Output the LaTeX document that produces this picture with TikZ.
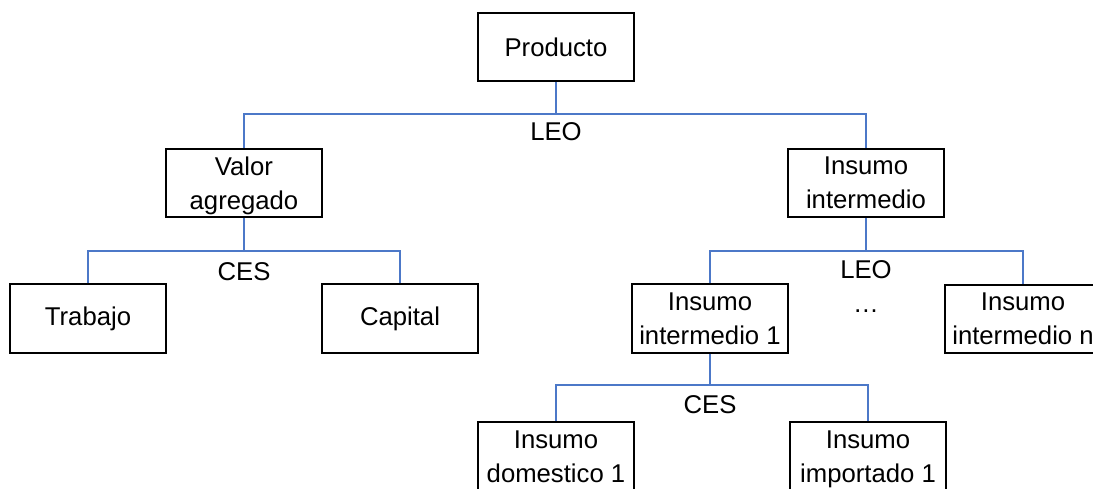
\documentclass[tikz,border=0pt]{standalone}
\usepackage{fontspec}
\setmainfont{Liberation Sans}
\definecolor{linkblue}{RGB}{76,120,200}
\newcommand\flatline[1]{\raisebox{0pt}[\height][0pt]{#1}}
\begin{document}
\begin{tikzpicture}[x=1pt,y=-1pt,
  box/.style={draw=black,line width=2pt,minimum width=156pt,minimum height=68pt,
    inner sep=0pt,align=center,fill=white,font=\fontsize{25.7}{34}\selectfont},
  tallbox/.style={box,minimum height=70pt},
  conn/.style={draw=linkblue,line width=1.2pt},
  lbl/.style={inner sep=0pt,font=\fontsize{25.7}{34}\selectfont}]
\useasboundingbox (0,0) rectangle (1093,489);
\clip (0,0) rectangle (1093,489);
\fill[white] (0,0) rectangle (1093,489);
% junctions
\coordinate (j1) at (556,114);
\coordinate (j2) at (244,251);
\coordinate (j3) at (866,251);
\coordinate (j4) at (710,385);
% boxes
\node[box] (prod) at (556,47) {Producto};
\node[box] (va) at (244,183) {Valor\\\flatline{agregado}};
\node[box] (ii) at (866,183) {Insumo\\\flatline{intermedio}};
\node[box] (trab) at (88,318.5) {Trabajo};
\node[box] (cap) at (400,318.5) {Capital};
\node[box] (ii1) at (710,318.5) {Insumo\\\flatline{intermedio 1}};
\node[box] (iin) at (1023,319) {Insumo\\\flatline{intermedio n}};
\node[tallbox] (dom) at (556,457) {Insumo\\\flatline{domestico 1}};
\node[tallbox] (imp) at (868,457) {Insumo\\\flatline{importado 1}};
% connectors
\draw[conn] (prod.south) -- (j1);
\draw[conn] (va.north) |- (j1) -| (ii.north);
\draw[conn] (va.south) -- (j2);
\draw[conn] (trab.north) |- (j2) -| (cap.north);
\draw[conn] (ii.south) -- (j3);
\draw[conn] (ii1.north) |- (j3) -| (iin.north);
\draw[conn] (ii1.south) -- (j4);
\draw[conn] (dom.north) |- (j4) -| (imp.north);
% labels
\node[lbl] (leo1) at (556,132) {LEO};
\node[lbl] (ces1) at (244,272) {CES};
\node[lbl] (leo2) at (866,270) {LEO};
\node[lbl] (dots) at (866,311) {…};
\node[lbl] (ces2) at (710,405) {CES};
\end{tikzpicture}
\end{document}
